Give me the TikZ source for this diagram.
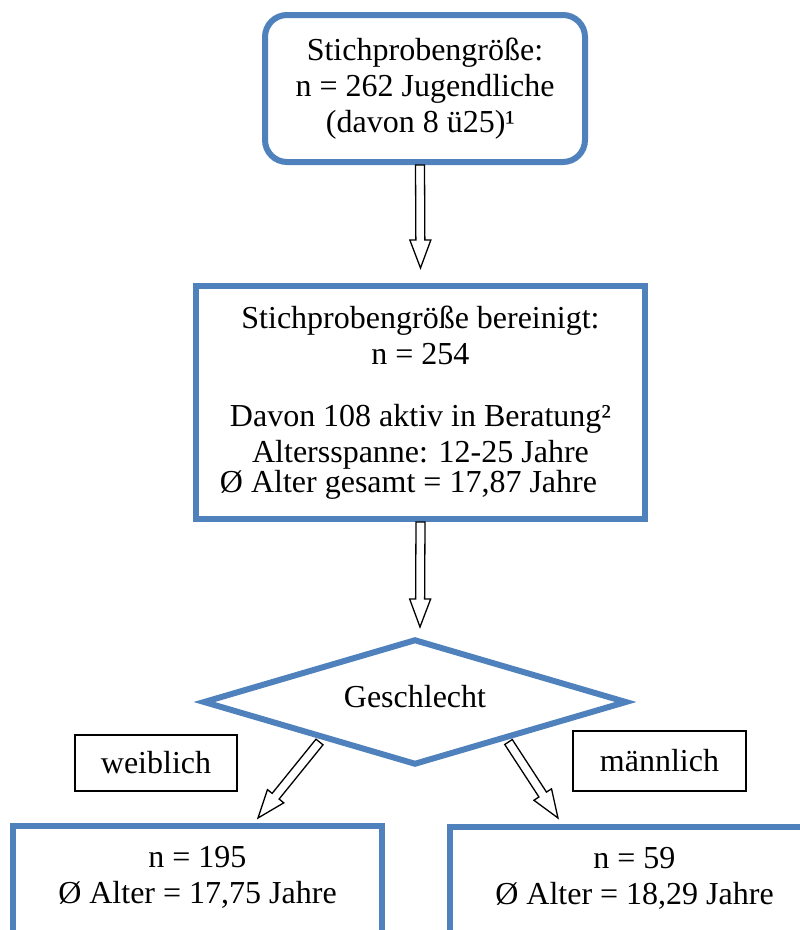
\documentclass[tikz,border=0pt]{standalone}
\usepackage{fontspec}
\setmainfont{Liberation Serif}
\usepackage{tikz}
\usetikzlibrary{shapes.geometric,calc}

\begin{document}
\begin{tikzpicture}
			[x=1pt,y=-1pt,line cap=round,
			font=\fontsize{32}{36}\selectfont,
			%Styles
			sample box/.style={draw=boxblue,line width=6pt,align=center,inner sep=0pt},
			gender diamond/.style={diamond,draw=boxblue,line width=6pt,aspect=3.4,inner sep=0pt},
			label box/.style={draw=black,line width=1.2pt,inner sep=0pt},
			block arrow/.style={draw=black,fill=white,line width=1.3pt,line join=miter,
				to path={let \p1=($(\tikztotarget)-(\tikztostart)$),
					\n1={atan2(\y1,\x1)},\n2={veclen(\x1,\y1)} in
					{[shift={(\tikztostart)},rotate=\n1]
					(0,4.5) -- (\n2-28,4.5) -- (\n2-28,10.5) -- (\n2,0)
					-- (\n2-28,-10.5) -- (\n2-28,-4.5) -- (0,-4.5) -- cycle}}}
			]
			
			%Colors
			\definecolor{boxblue}{RGB}{79,129,189}	%box and diamond outlines
			
			\useasboundingbox (0,0) rectangle (800,930);
			\clip (0,0) rectangle (800,930);
			
			%The graphic
			\node[sample box,rounded corners=22pt,minimum width=320pt,minimum height=147pt] (total) at (425,88.5)
				{Stichprobengröße:\\n = 262 Jugendliche\\(davon 8 ü25)¹\hspace*{9pt}};
			\node[sample box,minimum width=449pt,minimum height=233pt] (cleaned) at (420.5,402.5)
				{Stichprobengröße bereinigt:\\n = 254\\[26pt]Davon 108 aktiv in Beratung²\\Altersspanne: 12-25 Jahre\\[-6pt]Ø Alter gesamt = 17,87 Jahre\hspace*{24pt}};
			\node[gender diamond,minimum width=424pt,minimum height=126pt,text height=22pt,text depth=12pt] (gender) at (415,702) {Geschlecht};
			
			\node[label box,minimum width=162pt,minimum height=56pt] (female label) at (156,763) {weiblich};
			\node[label box,minimum width=173pt,minimum height=60pt] (male label) at (659.5,761) {männlich};
			
			\node[sample box,anchor=north,minimum width=369pt,text height=58pt,text depth=70pt,inner ysep=19pt] (female) at (197.5,823)
				{n = 195\\Ø Alter = 17,75 Jahre};
			\node[sample box,anchor=north,minimum width=369pt,text height=58pt,text depth=70pt,inner ysep=19pt] (male) at (634.5,824)
				{n = 59\\Ø Alter = 18,29 Jahre};
			
			\draw[block arrow] ([xshift=-5pt]total.south) to ([yshift=15pt]cleaned.north);
			\draw[block arrow] (cleaned.south) to ([xshift=5pt,yshift=9pt]gender.north);
			\draw[block arrow] ([xshift=12pt,yshift=-7pt]gender.south west) to ([xshift=60.5pt,yshift=5pt]female.north);
			\draw[block arrow] ([xshift=-14pt,yshift=-7pt]gender.south east) to ([xshift=-76.5pt,yshift=6pt]male.north);
		\end{tikzpicture}
\end{document}
